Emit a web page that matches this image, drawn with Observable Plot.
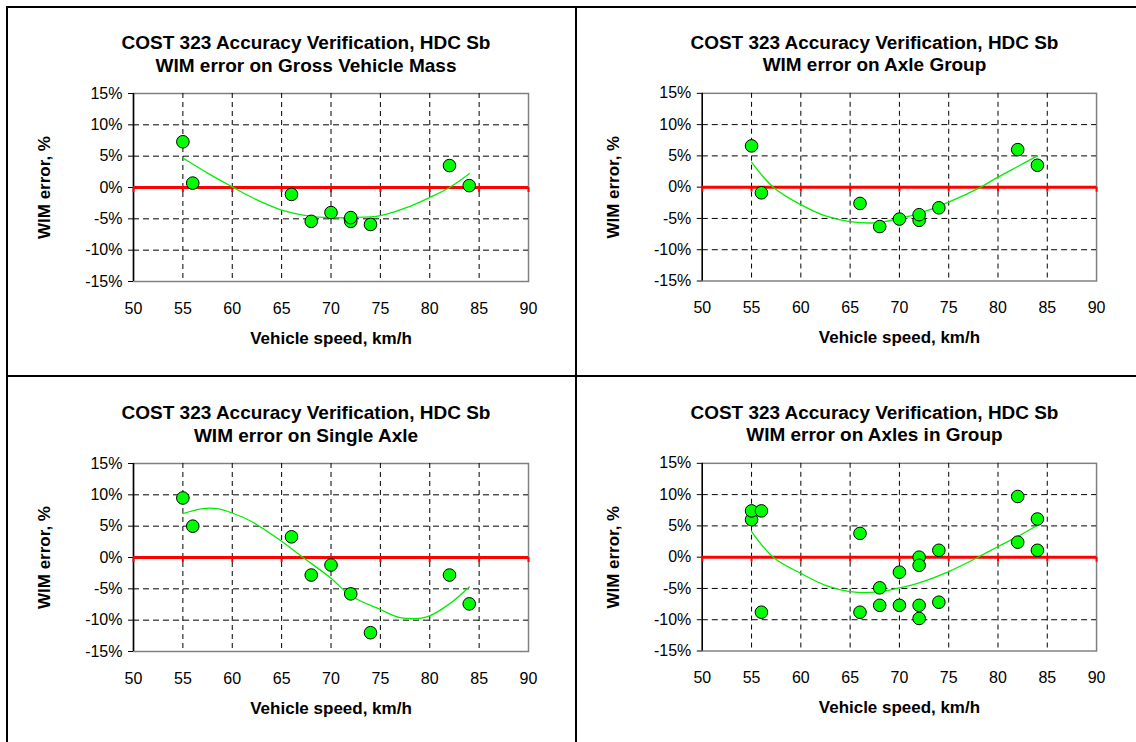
<!DOCTYPE html>
<html>
<head>
<meta charset="utf-8">
<script src="https://cdn.jsdelivr.net/npm/d3@7"></script>
<script src="https://cdn.jsdelivr.net/npm/@observablehq/plot@0.6"></script>
<style>
  html, body { margin: 0; padding: 0; background: #fff; }
  #page { position: relative; width: 1136px; height: 742px; overflow: hidden; background: #fff; }
  .panel { position: absolute; }
  .hline, .vline { position: absolute; background: #000; }
</style>
</head>
<body>
<div id="page"></div>
<script>
// ---- Data ----
const titleLine1 = "COST 323 Accuracy Verification, HDC Sb";
const panelTitles = ["WIM error on Gross Vehicle Mass", "WIM error on Axle Group", "WIM error on Single Axle", "WIM error on Axles in Group"];
const xTicks = [50, 55, 60, 65, 70, 75, 80, 85, 90];
const yTicks = [-15, -10, -5, 0, 5, 10, 15];
const xLabel = "Vehicle speed, km/h";
const yLabel = "WIM error, %";

// Gross Vehicle Mass
const gvmSpeed = [55, 56, 66, 68, 70, 72, 72, 74, 82, 84];
const gvmError = [7.3, 0.7, -1.1, -5.4, -4.0, -5.4, -4.8, -5.9, 3.5, 0.3];
const gvmTrendSpeed = [55, 57.5, 60, 62, 65, 68, 70, 72, 75, 78, 80, 82, 84];
const gvmTrendError = [4.7, 2.3, 0.1, -1.6, -3.6, -4.6, -4.8, -4.8, -4.5, -3.0, -1.6, 0.0, 2.2];

// Axle Group
const agSpeed = [55, 56, 66, 68, 70, 72, 72, 74, 82, 84];
const agError = [6.6, -0.9, -2.6, -6.3, -5.1, -5.3, -4.4, -3.3, 6.0, 3.5];
const agTrendSpeed = [55, 57.2, 60, 62.5, 65, 67.5, 70, 72, 75, 78, 80, 82, 84];
const agTrendError = [4.0, 0.0, -2.8, -4.6, -5.5, -5.7, -5.0, -4.2, -2.4, -0.2, 1.6, 3.3, 5.0];

// Single Axle
const saSpeed = [55, 56, 66, 68, 70, 72, 74, 82, 84];
const saError = [9.5, 5.0, 3.3, -2.8, -1.2, -5.8, -12.0, -2.8, -7.4];
const saTrendSpeed = [55, 57, 58.5, 60, 62, 65, 67, 70, 72, 75, 77, 79, 80, 82, 84];
const saTrendError = [7.0, 7.8, 7.8, 7.1, 5.7, 2.6, 0.2, -3.3, -6.1, -8.3, -9.6, -9.7, -9.3, -7.4, -4.7];

// Axles in Group
const aigSpeed = [55, 55, 56, 56, 66, 66, 68, 68, 70, 70, 72, 72, 72, 72, 74, 74, 82, 82, 84, 84];
const aigError = [6.0, 7.4, 7.4, -8.8, 3.8, -8.8, -4.9, -7.7, -2.4, -7.7, 0.0, -1.3, -7.7, -9.8, 1.1, -7.2, 9.7, 2.4, 6.1, 1.1];
const aigTrendSpeed = [55, 57.2, 60, 62.5, 65, 67.5, 70, 72, 75, 78, 80, 82, 84];
const aigTrendError = [4.1, 0.0, -2.6, -4.5, -5.5, -5.6, -4.9, -4.1, -2.3, 0.0, 1.7, 3.3, 5.1];

const panels = [
  {title: panelTitles[0], sx: gvmSpeed, sy: gvmError, tx: gvmTrendSpeed, ty: gvmTrendError, left: 0, top: 0},
  {title: panelTitles[1], sx: agSpeed, sy: agError, tx: agTrendSpeed, ty: agTrendError, left: 569, top: 0},
  {title: panelTitles[2], sx: saSpeed, sy: saError, tx: saTrendSpeed, ty: saTrendError, left: 0, top: 370},
  {title: panelTitles[3], sx: aigSpeed, sy: aigError, tx: aigTrendSpeed, ty: aigTrendError, left: 569, top: 370}
];

const page = document.getElementById("page");
const FONT = "'Liberation Sans', Arial, Helvetica, sans-serif";

function makePanel(p) {
  const pts = p.sx.map((x, i) => ({x, y: p.sy[i]}));
  const trend = p.tx.map((x, i) => ({x, y: p.ty[i]}));
  const innerX = xTicks.filter(d => d !== 50 && d !== 90);
  const innerY = yTicks.filter(d => d !== 0 && d !== 15 && d !== -15);
  return Plot.plot({
    width: 568,
    height: 370,
    marginLeft: 133,
    marginRight: 40,
    marginTop: 93,
    marginBottom: 89,
    style: {fontFamily: FONT, fontSize: "16px", color: "#000", background: "transparent", overflow: "visible"},
    x: {domain: [50, 90], ticks: xTicks},
    y: {domain: [-15, 15], ticks: yTicks},
    marks: [
      Plot.frame({stroke: "#808080", strokeWidth: 1.5}),
      Plot.ruleX(innerX, {stroke: "#000", strokeDasharray: "5,4", strokeWidth: 1}),
      Plot.ruleY(innerY, {stroke: "#000", strokeDasharray: "6,4", strokeWidth: 1}),
      Plot.ruleX([50], {stroke: "#000", strokeWidth: 1.5}),
      Plot.axisY({ticks: yTicks, tickSize: 5, tickPadding: 6, tickFormat: d => d + "%", label: null, fontSize: 16}),
      Plot.axisX({ticks: xTicks, tickSize: 0, tickPadding: 21, label: null, fontSize: 16}),
      Plot.ruleY([0], {stroke: "#ff0000", strokeWidth: 3}),
      Plot.ruleX(xTicks, {y1: 0, y2: -0.8, stroke: "#ff0000", strokeWidth: 2}),
      Plot.line(trend, {x: "x", y: "y", stroke: "#00ee00", strokeWidth: 1.3, curve: "catmull-rom"}),
      Plot.dot(pts, {x: "x", y: "y", r: 6.3, fill: "#00ff00", stroke: "#000", strokeWidth: 1}),
      Plot.text([titleLine1], {frameAnchor: "top", dx: -25, dy: -51, lineAnchor: "middle", textAnchor: "middle", fontSize: 19, fontWeight: "bold", fill: "#000"}),
      Plot.text([p.title], {frameAnchor: "top", dx: -25, dy: -28, lineAnchor: "middle", textAnchor: "middle", fontSize: 19, fontWeight: "bold", fill: "#000"}),
      Plot.text([xLabel], {frameAnchor: "bottom", dy: 57, lineAnchor: "middle", textAnchor: "middle", fontSize: 17, fontWeight: "bold", fill: "#000"}),
      Plot.text([yLabel], {frameAnchor: "left", dx: -89, rotate: -90, lineAnchor: "middle", textAnchor: "middle", fontSize: 17, fontWeight: "bold", fill: "#000"})
    ]
  });
}

for (const p of panels) {
  const wrap = document.createElement("div");
  wrap.className = "panel";
  wrap.style.left = p.left + "px";
  wrap.style.top = p.top + "px";
  wrap.appendChild(makePanel(p));
  page.appendChild(wrap);
}

// Panel border lines
function line(cls, l, t, w, h) {
  const d = document.createElement("div");
  d.className = cls;
  d.style.left = l + "px"; d.style.top = t + "px";
  d.style.width = w + "px"; d.style.height = h + "px";
  page.appendChild(d);
}
line("hline", 6, 6, 1130, 2);
line("hline", 6, 375, 1130, 2);
line("vline", 6, 6, 2, 736);
line("vline", 575, 6, 2, 736);
</script>
</body>
</html>
